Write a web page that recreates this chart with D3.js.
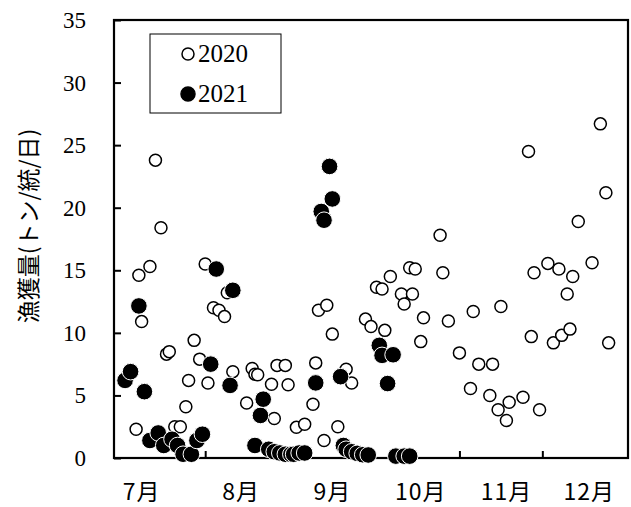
<!DOCTYPE html>
<html>
<head>
<meta charset="utf-8">
<script src="https://cdn.jsdelivr.net/npm/d3@7"></script>
<style>
  body { margin: 0; background: #fff; }
  svg { display: block; }
</style>
</head>
<body>
<svg class="chart"></svg>
<script>
// catch per day (month-day)
var dates2020 = ['07-07','07-08','07-09','07-12','07-14','07-16','07-18','07-19','07-21','07-23','07-25','07-26','07-28','07-30',
  '08-01','08-02','08-04','08-06','08-08','08-09','08-11','08-16','08-18','08-19','08-20','08-25','08-26','08-27','08-30','08-31',
  '09-03','09-06','09-09','09-10','09-11','09-13','09-14','09-16','09-18','09-21','09-23','09-28','09-30',
  '10-02','10-04','10-05','10-07','10-11','10-12','10-14','10-15','10-16','10-18','10-19','10-25','10-26','10-28',
  '11-01','11-05','11-06','11-08','11-12','11-13','11-15','11-16','11-18','11-19','11-24','11-26','11-27','11-28','11-30',
  '12-03','12-05','12-07','12-08','12-10','12-11','12-12','12-14','12-19','12-22','12-24','12-25'];
var values2020 = [2.3,14.6,10.9,15.3,23.8,18.4,8.3,8.5,2.5,2.5,4.1,6.2,9.4,7.9,
  15.5,6.0,12.0,11.8,11.3,13.2,6.9,4.4,7.15,6.7,6.65,5.9,3.15,7.4,7.4,5.85,
  2.45,2.7,4.3,7.6,11.8,1.4,12.2,9.9,2.5,7.1,6.0,11.1,10.5,
  13.65,13.5,10.2,14.5,13.1,12.3,15.2,13.1,15.1,9.3,11.2,17.8,14.8,10.95,
  8.4,5.55,11.7,7.5,5.0,7.5,3.85,12.1,3.0,4.45,4.85,24.5,9.7,14.8,3.85,
  15.55,9.2,15.1,9.8,13.1,10.3,14.5,18.9,15.6,26.7,21.2,9.2];

var dates2021 = ['07-03','07-05','07-08','07-10','07-12','07-15','07-17','07-20','07-22','07-24','07-27','07-29','07-31',
  '08-03','08-05','08-10','08-11','08-19','08-21','08-22','08-24','08-26','08-28','08-30',
  '09-01','09-02','09-04','09-06','09-10','09-12','09-13','09-15','09-16','09-19','09-20','09-21','09-23','09-25','09-27','09-29',
  '10-03','10-04','10-06','10-08','10-09','10-12','10-14'];
var values2021 = [6.2,6.9,12.15,5.3,1.4,2.0,1.0,1.5,1.0,0.3,0.3,1.4,1.9,
  7.5,15.1,5.8,13.4,1.0,3.4,4.7,0.7,0.5,0.4,0.3,
  0.3,0.3,0.4,0.4,6.0,19.7,19.0,23.3,20.7,6.5,1.0,0.7,0.5,0.37,0.26,0.24,
  9.0,8.2,5.95,8.25,0.15,0.15,0.15];

var yTicks = [0, 5, 10, 15, 20, 25, 30, 35];
var monthTicks = ['08-01', '09-01', '10-01', '11-01', '12-01'];
var monthLabels = ['7月', '8月', '9月', '10月', '11月', '12月'];
var monthLabelDates = ['07-09', '08-14', '09-16', '10-18', '11-18', '12-18'];
var seriesNames = ['2020', '2021'];

const W = 631, H = 507;
const m = {left: 114, right: 3, top: 20, bottom: 49};
const parse = s => d3.timeParse('%Y-%m-%d')('2020-' + s);

const svg = d3.select('svg.chart').attr('width', W).attr('height', H);

const x = d3.scaleTime()
  .domain([parse('06-29'), new Date(2021, 0, 1)])
  .range([m.left, W - m.right]);
const y = d3.scaleLinear().domain([0, 35]).range([H - m.bottom, m.top]);

const pts2020 = dates2020.map((d, i) => ({date: parse(d), val: values2020[i]}));
const pts2021 = dates2021.map((d, i) => ({date: parse(d), val: values2021[i]}));

// y axis: ticks inside, labels in serif
const yAxis = svg.append('g')
  .attr('transform', 'translate(' + m.left + ',0)')
  .call(d3.axisRight(y).tickValues(yTicks).tickSize(7).tickFormat(''));
yAxis.select('.domain').remove();
yAxis.selectAll('line').attr('stroke', '#000').attr('stroke-width', 2);

svg.append('g').selectAll('text')
  .data(yTicks)
  .enter()
  .append('text')
  .attr('x', 86)
  .attr('y', d => y(d))
  .attr('dy', '0.35em')
  .attr('text-anchor', 'end')
  .style('font-family', '"Liberation Serif", "Times New Roman", serif')
  .style('font-size', '23px')
  .text(d => d);

// x axis: month boundary ticks pointing up
const xAxis = svg.append('g')
  .attr('transform', 'translate(0,' + (H - m.bottom) + ')')
  .call(d3.axisTop(x).tickValues(monthTicks.map(parse)).tickSize(7).tickFormat(''));
xAxis.select('.domain').remove();
xAxis.selectAll('line').attr('stroke', '#000').attr('stroke-width', 2);

svg.append('g').selectAll('text')
  .data(monthLabels)
  .enter()
  .append('text')
  .attr('x', (d, i) => x(parse(monthLabelDates[i])))
  .attr('y', 500)
  .attr('text-anchor', 'middle')
  .style('font-family', '"Noto Sans CJK JP", sans-serif')
  .style('font-size', '23px')
  .style('letter-spacing', '1px')
  .text(d => d);

// frame
svg.append('rect')
  .attr('x', m.left)
  .attr('y', m.top)
  .attr('width', W - m.right - m.left)
  .attr('height', H - m.bottom - m.top)
  .attr('fill', 'none')
  .attr('stroke', '#000')
  .attr('stroke-width', 2.2);

svg.append('text')
  .attr('transform', 'translate(37,226) rotate(-90)')
  .attr('text-anchor', 'middle')
  .style('font-family', '"Noto Sans CJK JP", sans-serif')
  .style('font-size', '23px')
  .text('漁獲量(トン/統/日)');

// points
let g = svg.append('g');
g.selectAll('circle.y2020')
  .data(pts2020)
  .enter()
  .append('circle')
  .attr('class', 'y2020')
  .attr('cx', d => x(d.date))
  .attr('cy', d => y(d.val))
  .attr('r', 6)
  .attr('fill', '#fff')
  .attr('stroke', '#000')
  .attr('stroke-width', 1.5);

g.selectAll('circle.y2021')
  .data(pts2021)
  .enter()
  .append('circle')
  .attr('class', 'y2021')
  .attr('cx', d => x(d.date))
  .attr('cy', d => y(d.val))
  .attr('r', 8.3)
  .attr('fill', '#000')
  .attr('stroke', '#fff')
  .attr('stroke-width', 1);

// legend
const lg = svg.append('g');
lg.append('rect')
  .attr('x', 150).attr('y', 34).attr('width', 131).attr('height', 79)
  .attr('fill', '#fff').attr('stroke', '#000').attr('stroke-width', 1);
seriesNames.forEach(function(name, i) {
  const cy = 54 + i * 40;
  lg.append('circle')
    .attr('cx', 188).attr('cy', cy)
    .attr('r', i === 0 ? 6 : 7)
    .attr('fill', i === 0 ? '#fff' : '#000')
    .attr('stroke', '#000')
    .attr('stroke-width', 1.5);
  lg.append('text')
    .attr('x', 198).attr('y', cy + 8)
    .style('font-family', '"Liberation Serif", "Times New Roman", serif')
    .style('font-size', '25px')
    .text(name);
});
</script>
</body>
</html>
